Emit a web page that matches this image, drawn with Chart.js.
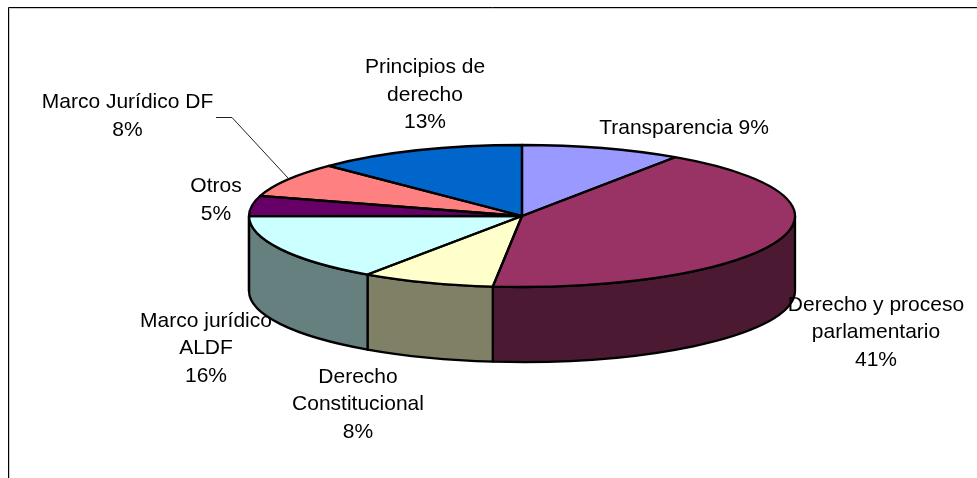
<!DOCTYPE html>
<html><head><meta charset="utf-8">
<style>html,body{margin:0;padding:0;background:#fff}#w{width:977px;height:478px;position:relative}</style>
<script src="https://cdn.jsdelivr.net/npm/chart.js@4"></script>
</head><body><div id="w"><canvas id="c" width="977" height="478"></canvas></div>
<script>
const categories = ["Transparencia","Derecho y proceso parlamentario","Derecho Constitucional","Marco jurídico ALDF","Otros","Marco Jurídico DF","Principios de derecho"];
const shareValues = [9.47,42.2,7.86,15.4,4.6,7.9,12.5];
const labelLines = [
  ["Transparencia 9%"],
  ["Derecho y proceso","parlamentario","41%"],
  ["Derecho","Constitucional","8%"],
  ["Marco jurídico","ALDF","16%"],
  ["Otros","5%"],
  ["Marco Jurídico DF","8%"],
  ["Principios de","derecho","13%"]
];
const topColors = ["#9999FF","#993366","#FFFFCC","#CCFFFF","#660066","#FF8080","#0066CC"];
const wallColors = ["#4C4C80","#4C1933","#808066","#668080","#330033","#804040","#003366"];
// layout of the drawing (separate from data)
const labelAnchors = [[684,128],[876,305],[358,377],[206,321],[216,186.5],[127.5,102.5],[425,67.5]];
const LINE_H = 27.5, FONT = '21px "Liberation Sans", Arial, sans-serif';
const SQUASH = 71/273, DEPTH = 75, RADIUS = 273;

const pie3d = {
  id:'pie3d',
  beforeDraw(chart){
    const c = chart.ctx; c.save();
    c.fillStyle='#fff'; c.fillRect(0,0,977,478);
    c.lineWidth=1;
    c.strokeStyle='#ccc';
    c.beginPath(); c.moveTo(9.5,478); c.lineTo(9.5,8.5); c.lineTo(977,8.5); c.stroke();
    c.strokeStyle='#000';
    c.beginPath(); c.moveTo(8.5,478); c.lineTo(8.5,7.5); c.lineTo(977,7.5); c.stroke();
    c.restore();
  },
  beforeDatasetsDraw(chart){
    const c = chart.ctx, arcs = chart.getDatasetMeta(0).data;
    const cx = arcs[0].x, cy = arcs[0].y, ry = RADIUS*SQUASH;
    c.save(); c.lineWidth=2.3; c.strokeStyle='#000'; c.lineJoin='round';
    arcs.forEach((a,i)=>{
      const lo = Math.max(a.startAngle,0), hi = Math.min(a.endAngle,Math.PI);
      if(lo>=hi) return;
      c.beginPath();
      c.ellipse(cx,cy,RADIUS,ry,0,lo,hi);
      c.ellipse(cx,cy+DEPTH,RADIUS,ry,0,hi,lo,true);
      c.closePath();
      c.fillStyle = wallColors[i]; c.fill(); c.stroke();
    });
    c.restore();
    c.save();
    c.translate(cx,cy); c.scale(1,SQUASH); c.translate(-cx,-cy);
  },
  afterDatasetsDraw(chart){
    const c = chart.ctx, arcs = chart.getDatasetMeta(0).data;
    c.restore();
    const cx = arcs[0].x, cy = arcs[0].y, ry = RADIUS*SQUASH;
    c.save(); c.lineWidth=2.3; c.strokeStyle='#000'; c.lineJoin='round';
    arcs.forEach(a=>{
      c.beginPath(); c.moveTo(cx,cy);
      c.ellipse(cx,cy,RADIUS,ry,0,a.startAngle,a.endAngle);
      c.closePath(); c.stroke();
    });
    // leader line of Marco Jurídico DF
    c.lineWidth=1; c.strokeStyle='#222';
    c.beginPath(); c.moveTo(216,117.5); c.lineTo(232,117.5); c.lineTo(288,178); c.stroke();
    c.fillStyle='#000'; c.font=FONT; c.textAlign='center'; c.textBaseline='middle';
    labelLines.forEach((ls,i)=>ls.forEach((t,j)=>c.fillText(t,labelAnchors[i][0],labelAnchors[i][1]+j*LINE_H)));
    c.restore();
  }
};

new Chart(document.getElementById('c'),{
  type:'pie',
  data:{labels:categories,datasets:[{data:shareValues,backgroundColor:topColors,borderWidth:0,clip:false,radius:RADIUS}]},
  options:{responsive:false,animation:false,layout:{padding:{left:67,top:0,right:0,bottom:46}},
    plugins:{legend:{display:false},tooltip:{enabled:false}}},
  plugins:[pie3d]
});
</script></body></html>
